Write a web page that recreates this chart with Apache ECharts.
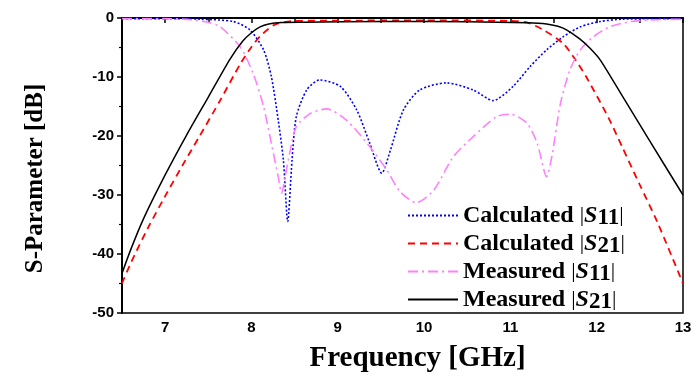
<!DOCTYPE html>
<html><head><meta charset="utf-8">
<script src="https://cdn.jsdelivr.net/npm/echarts@6/dist/echarts.min.js"></script>
<style>html,body{margin:0;padding:0;background:#fff}#c{width:697px;height:378px}</style>
</head><body><div id="c"></div>
<script>
// Frequency [GHz] / dB pairs
const calcS11 = [[6.5,-0.1],[7.0,-0.1],[7.4,-0.2],[7.79,-0.6],[7.98,-2.0],[8.14,-5.4],[8.23,-9.9],[8.31,-17.3],[8.37,-24.1],[8.42,-34.5],[8.47,-24.1],[8.52,-16.7],[8.64,-12.2],[8.79,-10.5],[9.03,-11.6],[9.22,-15.6],[9.37,-21.2],[9.51,-26.3],[9.61,-22.4],[9.76,-15.6],[9.95,-12.2],[10.26,-11.0],[10.57,-12.2],[10.80,-14.0],[11.03,-11.6],[11.23,-8.2],[11.42,-5.4],[11.61,-3.2],[11.81,-1.5],[12.04,-0.6],[12.3,-0.2],[13.0,-0.1]];
const calcS21 = [[6.5,-45],[6.6,-41.6],[6.8,-35.6],[7.0,-30.2],[7.2,-25.0],[7.4,-20.0],[7.64,-13.9],[7.87,-7.8],[8.0,-4.9],[8.1,-3.1],[8.2,-1.8],[8.29,-1.0],[8.5,-0.5],[9.0,-0.45],[10.0,-0.4],[11.0,-0.5],[11.2,-0.8],[11.38,-2.0],[11.61,-4.3],[11.75,-7.0],[11.88,-10.0],[12.14,-17.0],[12.3,-22.0],[12.5,-28.3],[12.7,-34.5],[13.0,-45]];
const measS11 = [[6.5,-0.1],[7.0,-0.1],[7.3,-0.3],[7.52,-0.8],[7.64,-1.5],[7.87,-4.9],[8.02,-9.4],[8.14,-15.0],[8.23,-21.2],[8.31,-26.9],[8.35,-29.7],[8.39,-26.9],[8.45,-22.4],[8.52,-18.4],[8.68,-16.2],[8.87,-15.4],[9.1,-17.3],[9.37,-21.8],[9.57,-25.8],[9.72,-29.4],[9.91,-31.3],[10.11,-29.2],[10.34,-23.5],[10.57,-20.1],[10.84,-16.7],[11.0,-16.3],[11.19,-17.8],[11.31,-21.2],[11.42,-26.9],[11.48,-23.5],[11.58,-14.5],[11.69,-8.8],[11.81,-5.4],[11.96,-3.2],[12.15,-1.5],[12.4,-0.6],[12.7,-0.3],[13.0,-0.2]];
const measS21 = [[6.5,-43.3],[6.6,-39.3],[6.75,-34.0],[7.0,-26.6],[7.25,-19.8],[7.5,-13.4],[7.75,-7.0],[7.9,-3.9],[8.0,-2.5],[8.1,-1.5],[8.2,-1.0],[8.35,-0.75],[8.6,-0.7],[9.5,-0.6],[10.5,-0.65],[11.2,-0.8],[11.42,-1.0],[11.55,-1.4],[11.65,-2.0],[11.8,-3.5],[11.92,-5.1],[12.04,-7.1],[12.3,-13.3],[12.6,-20.5],[13.0,-30.0]];
const names = ['Calculated |S11|','Calculated |S21|','Measured |S11|','Measured |S21|'];
const yTicks = [0,-10,-20,-30,-40,-50];
const xLabels = [7,8,9,10,11,12,13];

const chart = echarts.init(document.getElementById('c'));
const mk = (name, data, color, type, width) => ({
  name, type:'line', data, symbol:'none', smooth:0.25,
  lineStyle:{color, type, width}, itemStyle:{color}
});
const F = 'Liberation Serif';
const legendRich = {
  a:{fontFamily:F, fontWeight:'bold', fontSize:24, color:'#000', lineHeight:20},
  b:{fontFamily:F, fontSize:22, color:'#000', lineHeight:20},
  i:{fontFamily:F, fontStyle:'italic', fontWeight:'bold', fontSize:24, color:'#000', lineHeight:20},
  s:{fontFamily:F, fontWeight:'bold', fontSize:23, color:'#000', padding:[6,0,0,0], lineHeight:20}
};
chart.setOption({
  animation:false,
  grid:{left:122, right:14, top:18, bottom:65, show:true, borderColor:'#000', borderWidth:1.5},
  legend:{
    data:names, orient:'vertical', left:402, top:196, itemWidth:50, itemHeight:12, itemGap:-1,
    itemStyle:{opacity:0},
    formatter: n => {
      const p = n.split(' |S');
      const sub = p[1].replace('|','');
      return '{a|'+p[0]+' }{b||}{i|S}{s|'+sub+'}{b||}';
    },
    textStyle:{rich:legendRich}
  },
  xAxis:{
    type:'value', min:6.5, max:13, interval:0.5,
    name:'Frequency [GHz]', nameLocation:'middle', nameGap:31,
    nameTextStyle:{fontFamily:F, fontWeight:'bold', fontSize:29, color:'#000', padding:[0,0,0,30]},
    axisLine:{lineStyle:{color:'#000', width:2}},
    axisTick:{length:5, lineStyle:{color:'#000', width:1.5}},
    axisLabel:{margin:7, color:'#000', fontFamily:'Liberation Sans', fontWeight:'bold', fontSize:15,
      formatter: v => (xLabels.indexOf(v) >= 0 ? String(v) : '')},
    splitLine:{show:false}
  },
  yAxis:{
    type:'value', min:-50, max:0, interval:10,
    name:'S-Parameter [dB]', nameLocation:'middle', nameGap:74, nameRotate:90,
    nameTextStyle:{fontFamily:F, fontWeight:'bold', fontSize:25, color:'#000', padding:[0,26,0,0]},
    axisLine:{lineStyle:{color:'#000', width:2}},
    axisTick:{length:5, lineStyle:{color:'#000', width:1.5}},
    minorTick:{show:true, splitNumber:2, length:3, lineStyle:{color:'#000', width:1.2}},
    axisLabel:{margin:8, color:'#000', fontFamily:'Liberation Sans', fontWeight:'bold', fontSize:15,
      formatter: v => (yTicks.indexOf(v) >= 0 ? String(v) : '')},
    splitLine:{show:false}
  },
  series:[
    mk(names[0], calcS11, '#0000ff', [2,2], 1.6),
    mk(names[1], calcS21, '#ff0000', [7,5], 1.8),
    mk(names[2], measS11, '#ff80ff', [10,4,2,4], 1.6),
    mk(names[3], measS21, '#000000', 'solid', 1.5)
  ]
});
</script></body></html>
